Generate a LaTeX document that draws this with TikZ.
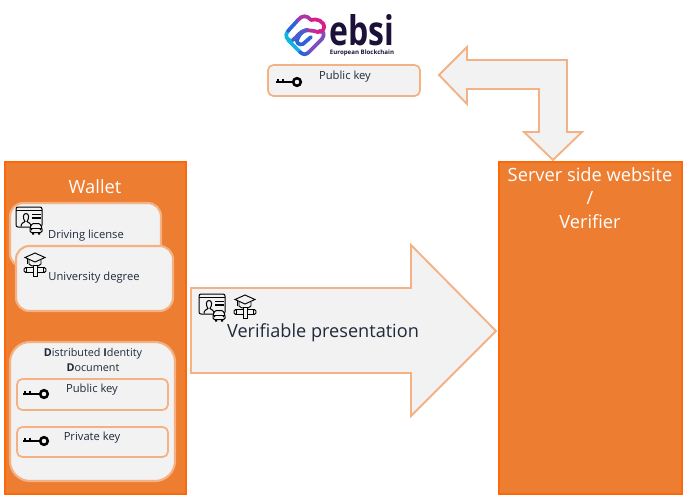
\documentclass[tikz,border=0pt]{standalone}
\usepackage{fontspec}
\setmainfont{Open Sans}
\definecolor{orFill}{HTML}{ED7D31}
\definecolor{orLine}{HTML}{FA6A0A}
\definecolor{paleLine}{HTML}{F4B183}
\definecolor{paleFill}{HTML}{F2F2F2}
\definecolor{inkText}{HTML}{1F2A3C}
\definecolor{logoInk}{HTML}{1D1139}
\definecolor{logoCyan}{HTML}{12B5E0}
\definecolor{logoBlue}{HTML}{2F62D8}
\definecolor{logoViolet}{HTML}{7A4FC0}
\definecolor{logoPink}{HTML}{D81E8C}
\tikzset{
 x=0.75pt,y=-0.75pt,
 panel/.style={draw=orLine,fill=orFill,line width=1.5pt},
 card/.style={draw=paleLine,fill=paleFill,line width=1.6pt,rounded corners=10pt},
 keybox/.style={draw=paleLine,fill=paleFill,line width=1.3pt,rounded corners=4pt},
 bigarrow/.style={draw=paleLine,fill=paleFill,line width=1.4pt},
 lab/.style={inner sep=0pt,text=inkText,font=\fontsize{8.4}{10}\selectfont,align=center},
 wlab/.style={inner sep=0pt,text=white,align=center,font=\fontsize{13.7}{15}\selectfont},
 pics/keyicon/.style={code={
   \draw[black,line width=1.9pt] (21,0) circle[radius=3.8];
   \draw[black,line width=1.9pt] (0,0)--(17.5,0);
   \draw[black,line width=1.5pt] (1.5,0)--(1.5,-3) (6.5,0)--(6.5,-3);
 }},
 pics/idicon/.style={code={
   \draw[black,line width=.75pt,rounded corners=1.5pt,fill=paleFill] (0,0) rectangle (26,20);
   \draw[black,line width=.75pt] (0,3.5)--(26,3.5);
   \draw[black,line width=.75pt] (5,19.5) .. controls (5,15.5) and (8,16) .. (9,14.5)
      .. controls (6.5,11) and (7,6.5) .. (10,6.5) .. controls (13,6.5) and (13.5,11) .. (11,14.5)
      .. controls (12,16) and (15,15.5) .. (15,19.5);
   \draw[black,line width=.8pt] (16,7.5)--(25,7.5) (16,11)--(25,11);
   \draw[black,line width=.75pt,fill=paleFill,rounded corners=1pt] (14,21) -- (16,16.5) -- (24,16.5) -- (26,21) -- (26,25.5) -- (14,25.5) -- cycle;
   \draw[black,line width=.75pt] (14,21)--(26,21);
   \fill[black] (16,25)rectangle(18,27.5) (22,25)rectangle(24,27.5) (15.5,22.5)circle[radius=.8] (24.5,22.5)circle[radius=.8];
 }},
 pics/capicon/.style={code={
   \draw[black,line width=.7pt,fill=paleFill] (11,0)--(21,4.5)--(11,9)--(1,4.5)--cycle;
   \draw[black,line width=.7pt] (5,7)--(5,11) .. controls (7,14) and (15,14) .. (17,11)--(17,7);
   \draw[black,line width=.7pt] (3,5.5)--(3,11);
   \draw[black,line width=.7pt,fill=paleFill,rounded corners=1.2pt] (0,14.5) rectangle (22,19.5);
   \draw[black,line width=.7pt] (2.5,14.5)--(2.5,19.5) (19.5,14.5)--(19.5,19.5);
   \draw[black,line width=.7pt,fill=paleFill] (9,12.5) rectangle (13,23);
 }},
}
\begin{document}
\begin{tikzpicture}
\useasboundingbox (0,0) rectangle (687,497);
% panels
\draw[panel] (5,162) rectangle (186,494);
\draw[panel] (499,162) rectangle (682,494);
\node[wlab] (walletlab) at (95,187) {Wallet};
\node[wlab] (serverlab) at (590,175) {Server side website};
\node[wlab] (slashlab) at (590,198) {/};
\node[wlab] (verifierlab) at (590,221.5) {Verifier};
% credentials
\draw[card] (10,203) rectangle (161,267);
\pic at (16,207) {idicon};
\node[lab] (driving) at (86,236) {Driving license};
\draw[card] (16,246) rectangle (173,311);
\pic at (24,253) {capicon};
\node[lab] (degree) at (94,278) {University degree};
% DID
\draw[card,rounded corners=15pt] (10,342) rectangle (175,481);
\node[lab,font=\fontsize{8.1}{11.2}\selectfont] (did) at (93,360) {\textbf{D}istributed \textbf{I}dentity\\\textbf{D}ocument};
\draw[keybox] (17,379) rectangle (168,410);
\pic at (23,394) {keyicon};
\node[lab] (pub) at (92,390) {Public key};
\draw[keybox] (17,427) rectangle (168,457);
\pic at (23,441) {keyicon};
\node[lab] (priv) at (92,438) {Private key};
% EBSI
\draw[keybox] (268,65) rectangle (420,96);
\pic at (276,82) {keyicon};
\node[lab] (ebsipub) at (345,77) {Public key};
% logo
\begin{scope}[line width=2.8pt,line cap=round,line join=round]
\draw[logoBlue] (308,30) .. controls (302,31) and (300,34) .. (298,38) .. controls (295,42) and (299,46) .. (303,44) -- (311,37);
\draw[logoCyan] (288,40)--(300,52);
\draw[logoBlue] (300,52) .. controls (303,55) and (306,55) .. (309,52);
\draw[logoViolet] (309,52)--(322,39);
\draw[logoViolet] (322,39) .. controls (325,35) and (324,30) .. (319,31);
\draw[logoCyan] (292,41) .. controls (287,40) and (284,36) .. (288,31);
\draw[logoBlue] (288,31) -- (298,20);
\draw[logoViolet!50!logoPink] (298,20) .. controls (302,15) and (307,15) .. (311,20);
\draw[logoPink] (311,20) .. controls (316,18) and (325,21) .. (324,28);
\draw[logoPink] (324,28) .. controls (323,32) and (319,33) .. (314,31);
\draw[logoViolet!40!logoPink] (314,31) -- (306,30);
\draw[logoBlue!60!logoViolet] (306,30) .. controls (300,31) and (297,37) .. (293,40);
\end{scope}
\node[inner sep=0pt,text=logoInk,font=\fontsize{30}{30}\selectfont\bfseries] (ebsiword) at (362,30) {\scalebox{.8}[1.02]{ebsi}};
\node[inner sep=0pt,text=logoInk,font=\fontsize{4.6}{5}\selectfont\bfseries] (ebsisub) at (362,52.5) {European Blockchain};
% arrows
\coordinate (bA) at (191,288);
\coordinate (bB) at (411,288);
\coordinate (bC) at (411,245);
\coordinate (bTip) at (496,331);
\coordinate (bD) at (411,416);
\coordinate (bE) at (411,373);
\coordinate (bF) at (191,373);
\draw[bigarrow] (bA)--(bB)--(bC)--(bTip)--(bD)--(bE)--(bF)--cycle;
\pic at (199,294) {idicon};
\pic at (234,295) {capicon};
\node[lab,font=\fontsize{13.6}{15}\selectfont] (vp) at (323,333) {Verifiable presentation};
\coordinate (cTipL) at (439,75);
\coordinate (cTipB) at (553,160);
\draw[bigarrow] (cTipL)--(467,47)--(467,60)--(567,60)--(567,132)--(582,132)--(cTipB)--(524,132)--(539,132)--(539,89)--(467,89)--(467,104)--cycle;
\end{tikzpicture}
\end{document}
